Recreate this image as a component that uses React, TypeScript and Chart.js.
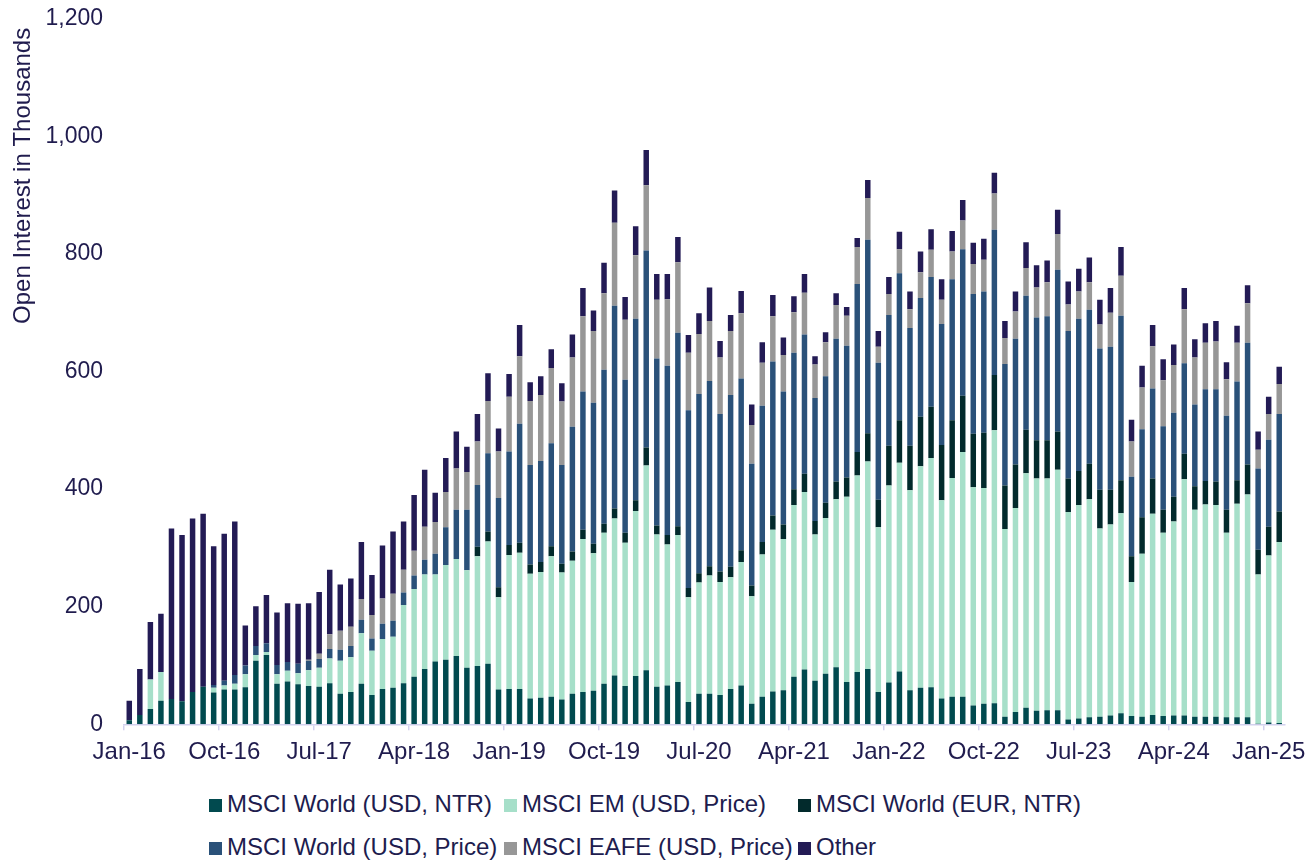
import React, { useEffect, useRef } from 'react';
import { Chart, registerables } from 'chart.js';

Chart.register(...registerables);

const CATEGORIES = [
  'Jan-16','Feb-16','Mar-16','Apr-16','May-16','Jun-16','Jul-16','Aug-16','Sep-16','Oct-16','Nov-16','Dec-16',
  'Jan-17','Feb-17','Mar-17','Apr-17','May-17','Jun-17','Jul-17','Aug-17','Sep-17','Oct-17','Nov-17','Dec-17',
  'Jan-18','Feb-18','Mar-18','Apr-18','May-18','Jun-18','Jul-18','Aug-18','Sep-18','Oct-18','Nov-18','Dec-18',
  'Jan-19','Feb-19','Mar-19','Apr-19','May-19','Jun-19','Jul-19','Aug-19','Sep-19','Oct-19','Nov-19','Dec-19',
  'Jan-20','Feb-20','Mar-20','Apr-20','May-20','Jun-20','Jul-20','Aug-20','Sep-20','Oct-20','Nov-20','Dec-20',
  'Jan-21','Feb-21','Mar-21','Apr-21','May-21','Jun-21','Jul-21','Aug-21','Sep-21','Oct-21','Nov-21','Dec-21',
  'Jan-22','Feb-22','Mar-22','Apr-22','May-22','Jun-22','Jul-22','Aug-22','Sep-22','Oct-22','Nov-22','Dec-22',
  'Jan-23','Feb-23','Mar-23','Apr-23','May-23','Jun-23','Jul-23','Aug-23','Sep-23','Oct-23','Nov-23','Dec-23',
  'Jan-24','Feb-24','Mar-24','Apr-24','May-24','Jun-24','Jul-24','Aug-24','Sep-24','Oct-24','Nov-24','Dec-24',
  'Jan-25','Feb-25',
];

const WORLD_USD_NTR = [
  7, 16, 26, 40, 43, 39, 55, 64, 54, 59, 59, 63,
  108, 118, 69, 73, 68, 65, 64, 70, 52, 55, 69, 50,
  60, 62, 70, 81, 94, 107, 110, 116, 96, 99, 103, 59,
  60, 60, 44, 45, 47, 42, 52, 55, 57, 69, 83, 65,
  82, 92, 64, 66, 72, 38, 52, 52, 50, 60, 66, 35,
  47, 56, 58, 81, 93, 74, 86, 97, 72, 89, 94, 55,
  71, 90, 58, 62, 63, 44, 47, 47, 32, 35, 36, 13,
  21, 28, 23, 24, 24, 8, 10, 12, 13, 15, 19, 14,
  13, 16, 14, 15, 15, 13, 13, 13, 12, 12, 12, 1,
  3, 2,
];

const EM_USD_PRICE = [
  0, 0, 50, 49, 0, 0, 0, 0, 8, 7, 10, 22,
  10, 5, 16, 18, 19, 27, 32, 42, 56, 59, 86, 75,
  85, 87, 133, 149, 161, 148, 161, 165, 166, 187, 208, 157,
  228, 232, 212, 214, 239, 216, 226, 260, 234, 257, 267, 244,
  281, 348, 259, 240, 250, 178, 189, 201, 192, 190, 210, 183,
  242, 275, 257, 292, 302, 249, 265, 286, 315, 334, 353, 280,
  335, 355, 340, 377, 390, 337, 372, 416, 371, 367, 464, 319,
  347, 399, 395, 394, 409, 353, 363, 371, 320, 325, 340, 228,
  277, 342, 312, 330, 402, 352, 361, 360, 314, 363, 379, 254,
  284, 308,
];

const WORLD_EUR_NTR = [
  0, 0, 0, 0, 0, 0, 0, 0, 0, 0, 0, 0,
  0, 0, 0, 0, 0, 0, 0, 0, 0, 0, 0, 0,
  0, 0, 0, 0, 0, 0, 0, 0, 0, 16, 17, 17,
  17, 17, 16, 17, 17, 15, 16, 16, 16, 15, 17, 17,
  18, 31, 15, 16, 15, 16, 16, 16, 18, 18, 20, 18,
  21, 24, 25, 27, 31, 23, 26, 30, 33, 40, 48, 47,
  68, 72, 76, 84, 87, 94, 98, 96, 91, 94, 94, 74,
  74, 74, 65, 65, 65, 57, 58, 60, 66, 59, 56, 44,
  62, 60, 39, 42, 43, 40, 40, 40, 39, 40, 51, 42,
  49, 52,
];

const WORLD_USD_PRICE = [
  0, 0, 0, 0, 0, 0, 0, 0, 5, 8, 15, 15,
  15, 15, 16, 15, 16, 16, 15, 16, 19, 19, 23, 21,
  26, 27, 21, 23, 25, 35, 64, 84, 103, 105, 133, 152,
  159, 202, 169, 172, 175, 168, 212, 235, 240, 262, 345, 260,
  309, 335, 284, 288, 329, 302, 305, 315, 268, 292, 292, 207,
  232, 262, 226, 232, 237, 209, 215, 243, 224, 286, 329, 233,
  222, 250, 200, 202, 221, 206, 240, 249, 238, 240, 247, 207,
  214, 228, 209, 211, 275, 251, 259, 262, 240, 243, 280, 135,
  150, 153, 142, 143, 154, 139, 156, 157, 160, 168, 207, 138,
  148, 166,
];

const EAFE_USD_PRICE = [
  0, 0, 0, 0, 0, 0, 0, 0, 0, 0, 0, 0,
  0, 0, 0, 0, 0, 2, 9, 25, 32, 33, 35, 40,
  43, 46, 39, 42, 56, 54, 60, 70, 64, 74, 89, 79,
  93, 115, 109, 112, 128, 108, 118, 128, 122, 130, 141, 102,
  108, 111, 100, 113, 120, 98, 102, 102, 96, 109, 111, 66,
  73, 77, 62, 69, 71, 57, 58, 57, 51, 63, 71, 27,
  36, 41, 32, 44, 46, 41, 47, 49, 51, 54, 62, 44,
  46, 47, 51, 58, 61, 45, 46, 47, 41, 58, 68, 60,
  71, 72, 78, 81, 92, 80, 79, 81, 62, 66, 67, 32,
  44, 51,
];

const OTHER = [
  33, 78, 98, 99, 290, 283, 295, 294, 236, 250, 261, 68,
  68, 82, 89, 100, 102, 96, 105, 110, 79, 82, 97, 68,
  90, 106, 82, 95, 97, 50, 58, 63, 43, 47, 47, 39,
  39, 53, 32, 32, 32, 31, 39, 48, 35, 52, 55, 39,
  49, 60, 44, 43, 43, 30, 35, 57, 28, 27, 38, 35,
  35, 36, 30, 27, 32, 14, 17, 20, 15, 15, 31, 27,
  29, 30, 30, 35, 35, 35, 35, 35, 36, 36, 35, 29,
  34, 44, 38, 37, 41, 39, 39, 42, 42, 42, 49, 37,
  37, 36, 36, 35, 36, 31, 33, 35, 29, 29, 31, 31,
  29, 29,
];

const SERIES_NAMES = [
  'MSCI World (USD, NTR)',
  'MSCI EM (USD, Price)',
  'MSCI World (EUR, NTR)',
  'MSCI World (USD, Price)',
  'MSCI EAFE (USD, Price)',
  'Other',
];
const SERIES_COLORS = ['#014a4f', '#a6dfc9', '#022a2c', '#2a5179', '#979797', '#231b55'];
const SERIES_DATA = [WORLD_USD_NTR, EM_USD_PRICE, WORLD_EUR_NTR, WORLD_USD_PRICE, EAFE_USD_PRICE, OTHER];

const Y_TITLE = 'Open Interest in Thousands';
const TEXT_COLOR = '#201c4e';
const AXIS_COLOR = '#d3d1ee';
const FONT = "'Liberation Sans', Arial, sans-serif";
const LABEL_EVERY = 9;

// canvas placement on the page (the plot's top then lands at y=19)
const CANVAS_LEFT = 8;
const CANVAS_TOP = -15.8;

const yTitlePlugin = {
  id: 'yTitlePlugin',
  afterDraw(chart: any) {
    const ctx = chart.ctx;
    ctx.save();
    ctx.translate(23.5 - CANVAS_LEFT, 28 - CANVAS_TOP);
    ctx.rotate(-Math.PI / 2);
    ctx.font = `24px ${FONT}`;
    ctx.fillStyle = TEXT_COLOR;
    ctx.textAlign = 'right';
    ctx.textBaseline = 'middle';
    ctx.fillText(Y_TITLE, 0, 0);
    ctx.restore();
  },
};

export default function App() {
  const canvasRef = useRef<HTMLCanvasElement>(null);

  useEffect(() => {
    if (!canvasRef.current) return;
    const chart = new Chart(canvasRef.current, {
      type: 'bar',
      data: {
        labels: CATEGORIES,
        datasets: SERIES_DATA.map((d, i) => ({
          label: SERIES_NAMES[i],
          data: d,
          backgroundColor: SERIES_COLORS[i],
          borderWidth: 0,
          barPercentage: 0.52,
          categoryPercentage: 1,
        })),
      },
      options: {
        animation: false,
        responsive: true,
        maintainAspectRatio: false,
        layout: { padding: { left: 0, right: 21.5, top: 0, bottom: 0 } },
        plugins: {
          legend: { display: false },
          tooltip: { enabled: false },
          title: { display: false },
        },
        scales: {
          x: {
            stacked: true,
            offset: true,
            afterFit(scale: any) {
              scale.height = 60.7;
            },
            grid: {
              display: true,
              drawOnChartArea: false,
              drawTicks: true,
              tickLength: 6,
              offset: true,
              lineWidth: 1.5,
              color: (ctx: any) => (ctx.index % LABEL_EVERY === 0 ? AXIS_COLOR : 'rgba(0,0,0,0)'),
            },
            border: { display: true, color: AXIS_COLOR, width: 1.5 },
            ticks: {
              autoSkip: false,
              maxRotation: 0,
              minRotation: 0,
              padding: 8,
              color: TEXT_COLOR,
              font: { family: FONT, size: 24 },
              callback: (_v: any, idx: number) => (idx % LABEL_EVERY === 0 ? CATEGORIES[idx] : ''),
            },
          },
          y: {
            stacked: true,
            min: 0,
            max: 1200,
            afterFit(scale: any) {
              scale.width = 116;
            },
            grid: { display: false, drawTicks: false },
            border: { display: false },
            ticks: {
              stepSize: 200,
              padding: 21,
              color: TEXT_COLOR,
              font: { family: FONT, size: 23 },
              callback: (v: any) => Number(v).toLocaleString('en-US'),
            },
          },
        },
      },
      plugins: [yTitlePlugin],
    });
    return () => chart.destroy();
  }, []);

  const colLeft = [0, 295, 589];
  const legendRows = [
    [0, 1, 2],
    [3, 4, 5],
  ];

  return (
    <div style={{ position: 'relative', width: 1306, height: 861, overflow: 'hidden', background: '#fff' }}>
      <style>{'html,body{margin:0;padding:0;overflow:hidden;}'}</style>
      <div style={{ position: 'absolute', left: CANVAS_LEFT, top: CANVAS_TOP, width: 1298, height: 801 }}>
        <canvas ref={canvasRef} />
      </div>
      {legendRows.map((row, r) => (
        <div key={r}>
          {row.map((si, c) => (
            <div
              key={si}
              style={{
                position: 'absolute',
                left: 209 + colLeft[c],
                top: 791 + r * 43,
                height: 26,
                display: 'flex',
                alignItems: 'center',
                whiteSpace: 'nowrap',
                fontFamily: FONT,
                fontSize: 24,
                lineHeight: '26px',
                color: TEXT_COLOR,
              }}
            >
              <span
                style={{
                  display: 'inline-block',
                  width: 13,
                  height: 13,
                  background: SERIES_COLORS[si],
                  marginRight: 5,
                  position: 'relative',
                  top: 1,
                }}
              />
              <span>{SERIES_NAMES[si]}</span>
            </div>
          ))}
        </div>
      ))}
    </div>
  );
}
